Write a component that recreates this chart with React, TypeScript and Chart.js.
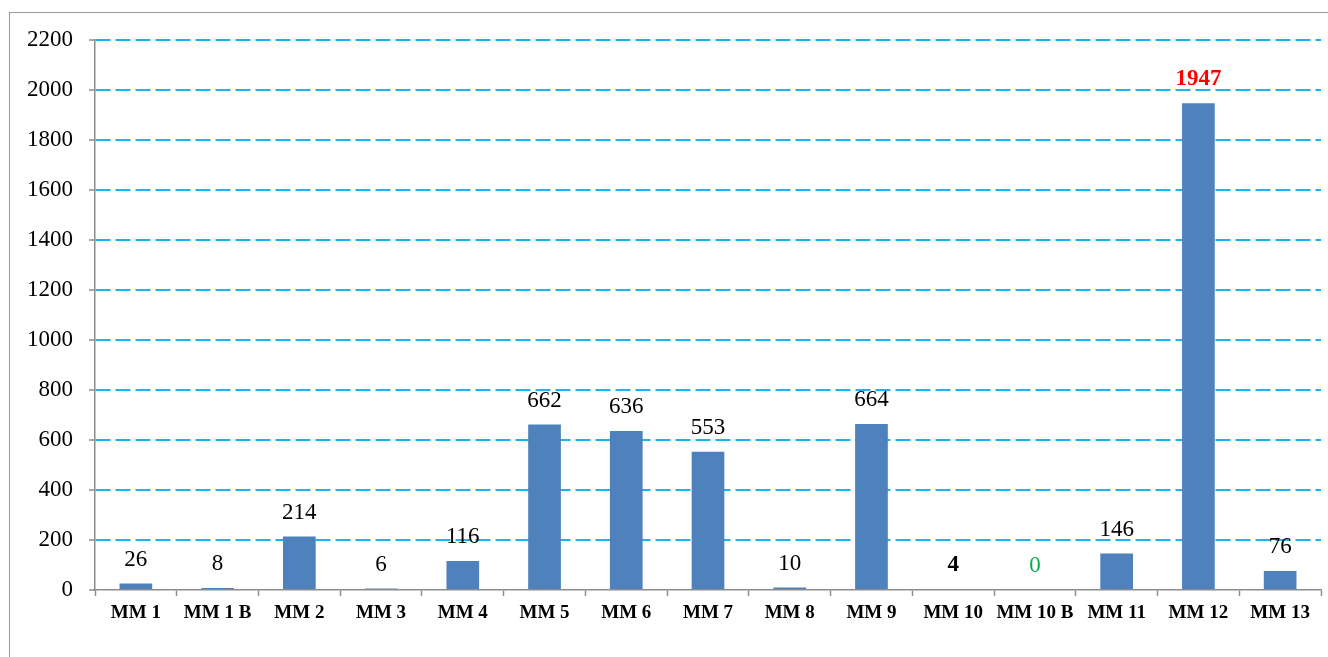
import React, { useEffect, useRef } from "react";
import { Chart, registerables } from "chart.js";

Chart.register(...registerables);

const categories = ["MM 1", "MM 1 B", "MM 2", "MM 3", "MM 4", "MM 5", "MM 6", "MM 7", "MM 8", "MM 9", "MM 10", "MM 10 B", "MM 11", "MM 12", "MM 13"];
const values = [26, 8, 214, 6, 116, 662, 636, 553, 10, 664, 4, 0, 146, 1947, 76];
const labelColors = ["#000", "#000", "#000", "#000", "#000", "#000", "#000", "#000", "#000", "#000", "#000", "#00B050", "#000", "#FF0000", "#000"];
const labelBold = [false, false, false, false, false, false, false, false, false, false, true, false, false, true, false];
const yMin = 0;
const yMax = 2200;
const yStep = 200;

const FONT = "'Liberation Serif', 'Times New Roman', serif";
const GRAY = "#8C8C8C";

const dataLabelPlugin = {
  id: "dataLabels",
  afterDatasetsDraw(chart: any) {
    const ctx = chart.ctx;
    const meta = chart.getDatasetMeta(0);
    ctx.save();
    ctx.textAlign = "center";
    ctx.textBaseline = "middle";
    meta.data.forEach((bar: any, i: number) => {
      ctx.font = `${labelBold[i] ? "bold " : ""}23px ${FONT}`;
      ctx.fillStyle = labelColors[i];
      ctx.fillText(String(values[i]), bar.x, bar.y - 24);
    });
    ctx.restore();
  },
};

export default function App() {
  const ref = useRef<HTMLCanvasElement | null>(null);
  useEffect(() => {
    if (!ref.current) return;
    const chart = new Chart(ref.current, {
      type: "bar",
      data: {
        labels: categories,
        datasets: [
          {
            data: values,
            backgroundColor: "#4F81BD",
            borderWidth: 0,
            barPercentage: 0.4,
            categoryPercentage: 1,
          },
        ],
      },
      options: {
        responsive: false,
        animation: false,
        devicePixelRatio: 1,
        layout: { padding: { top: 40, right: 7, bottom: 0, left: 0 } },
        plugins: { legend: { display: false }, tooltip: { enabled: false } },
        scales: {
          x: {
            afterFit: (s: any) => {
              s.height = 67;
            },
            grid: {
              offset: true,
              drawOnChartArea: false,
              drawTicks: true,
              tickLength: 6,
              tickColor: GRAY,
              tickWidth: 1.5,
            },
            border: { color: GRAY, width: 1.5 },
            ticks: {
              autoSkip: false,
              maxRotation: 0,
              padding: 6,
              color: "#000",
              font: { family: FONT, size: 19, weight: "bold" },
            },
          },
          y: {
            min: yMin,
            max: yMax,
            afterFit: (s: any) => {
              s.width = 95;
            },
            grid: {
              color: (c: any) => (c.tick && c.tick.value === 0 ? "rgba(0,0,0,0)" : "#1CB4EE"),
              lineWidth: 2,
              drawTicks: true,
              tickLength: 6,
              tickColor: GRAY,
              tickWidth: 1.5,
              tickBorderDash: [],
            },
            border: { color: GRAY, width: 1.5, dash: [15, 5] },
            ticks: {
              stepSize: yStep,
              padding: 16,
              color: "#000",
              font: { family: FONT, size: 23 },
              callback: (v: any) => String(v),
            },
          },
        },
      },
      plugins: [dataLabelPlugin],
    } as any);
    return () => chart.destroy();
  }, []);

  return (
    <div style={{ position: "fixed", left: 0, top: 0, width: 1328, height: 657, background: "#fff", overflow: "hidden" }}>
      <canvas ref={ref} width={1328} height={657} style={{ position: "absolute", left: 0, top: 0, width: 1328, height: 657 }} />
      <div
        style={{
          position: "absolute",
          left: 9,
          top: 12,
          width: 1400,
          height: 700,
          borderLeft: "1.5px solid #999",
          borderTop: "1.5px solid #999",
          pointerEvents: "none",
        }}
      />
    </div>
  );
}
